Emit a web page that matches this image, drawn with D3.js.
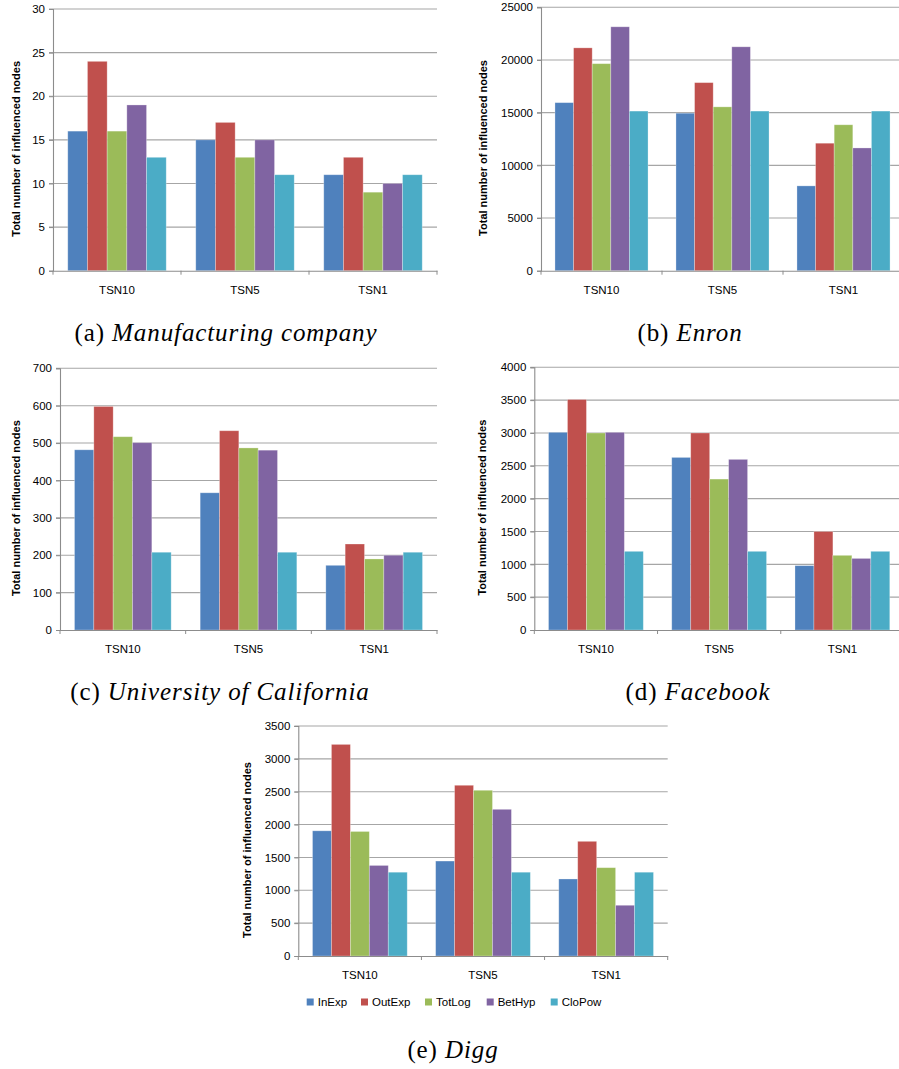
<!DOCTYPE html>
<html>
<head>
<meta charset="utf-8">
<script src="https://cdn.jsdelivr.net/npm/d3@7"></script>
<style>
  body { margin: 0; background: #fff; }
  svg { display: block; }
</style>
</head>
<body>
<svg id="chart" width="899" height="1069"></svg>
<script>
const categories = ["TSN10", "TSN5", "TSN1"];
const seriesNames = ["InExp", "OutExp", "TotLog", "BetHyp", "CloPow"];
const seriesColors = ["#4F81BD", "#C0504D", "#9BBB59", "#8064A2", "#4BACC6"];

// values per category, in series order
const manufacturing = [[16, 24, 16, 19, 13], [15, 17, 13, 15, 11], [11, 13, 9, 10, 11]];
const enron = [[15950, 21150, 19650, 23150, 15150], [14950, 17850, 15550, 21250, 15150], [8050, 12100, 13850, 11650, 15150]];
const california = [[482, 598, 517, 501, 208], [367, 533, 487, 481, 208], [173, 230, 190, 200, 208]];
const facebook = [[3010, 3510, 3000, 3010, 1198], [2628, 3000, 2298, 2598, 1198], [980, 1500, 1137, 1090, 1198]];
const digg = [[1905, 3220, 1895, 1378, 1275], [1445, 2598, 2522, 2232, 1275], [1172, 1745, 1344, 772, 1275]];

const yTitle = "Total number of influenced nodes";
const svg = d3.select("#chart");

// left/right = plot x range, top/bottom = y of max and zero
const panels = [
  {data: manufacturing, max: 30, step: 5, left: 53, right: 437, top: 9, bottom: 270.7, titleX: 16, label: "(a)", name: "Manufacturing company", capX: 226, capY: 341},
  {data: enron, max: 25000, step: 5000, left: 541, right: 904, top: 7.3, bottom: 270.7, titleX: 483, label: "(b)", name: "Enron", capX: 690, capY: 341},
  {data: california, max: 700, step: 100, left: 60, right: 437, top: 368.3, bottom: 630, titleX: 16, label: "(c)", name: "University of California", capX: 220, capY: 700},
  {data: facebook, max: 4000, step: 500, left: 534.3, right: 904, top: 367.3, bottom: 630, titleX: 482, label: "(d)", name: "Facebook", capX: 698, capY: 700},
  {data: digg, max: 3500, step: 500, left: 298.3, right: 667.7, top: 726, bottom: 956, titleX: 246.7, label: "(e)", name: "Digg", capX: 453, capY: 1058}
];

function drawPanel(p) {
  const g = svg.append("g");
  const x0 = d3.scaleBand().domain(categories).range([p.left, p.right]);
  // Excel gap width 150%: 5 bars + 1.5 bar of gap per category
  const bw = x0.bandwidth() / 6.5;
  const x1 = d3.scaleBand().domain(seriesNames)
    .range([bw * 0.75, bw * 0.75 + bw * 5]);
  const y = d3.scaleLinear().domain([0, p.max]).range([p.bottom, p.top]);
  const ticks = d3.range(0, p.max + p.step / 2, p.step);

  // gridlines
  g.append("g").selectAll("line")
    .data(ticks.slice(1))
    .enter().append("line")
    .attr("x1", p.left - 4).attr("x2", p.right)
    .attr("y1", d => y(d)).attr("y2", d => y(d))
    .attr("stroke", "#a6a6a6").attr("stroke-width", 1.1);

  // bars
  g.append("g").selectAll("g")
    .data(p.data)
    .enter().append("g")
    .attr("transform", (d, i) => `translate(${x0(categories[i])},0)`)
    .selectAll("rect")
    .data(d => d)
    .enter().append("rect")
    .attr("x", (d, j) => x1(seriesNames[j]))
    .attr("width", x1.bandwidth())
    .attr("y", d => y(d))
    .attr("height", d => y(0) - y(d))
    .attr("fill", (d, j) => seriesColors[j])
    .attr("stroke", "rgba(255,255,255,0.35)")
    .attr("stroke-width", 0.8);

  // y axis
  const yAxis = g.append("g")
    .attr("transform", `translate(${p.left},0)`)
    .call(d3.axisLeft(y).tickValues(ticks).tickSize(4).tickPadding(4).tickFormat(d3.format("d")));
  yAxis.select(".domain").attr("stroke", "#8c8c8c").attr("stroke-width", 1.1);
  yAxis.selectAll(".tick line").attr("stroke", "#8c8c8c");
  yAxis.selectAll("text")
    .attr("font-family", "Liberation Sans, Arial, sans-serif")
    .attr("font-size", 11.5).attr("fill", "#000");

  // x axis
  const xAxis = g.append("g")
    .attr("transform", `translate(0,${p.bottom})`)
    .call(d3.axisBottom(x0).tickSize(0).tickPadding(15));
  xAxis.select(".domain").attr("stroke", "#8c8c8c").attr("stroke-width", 1.1);
  xAxis.selectAll("text")
    .attr("font-family", "Liberation Sans, Arial, sans-serif")
    .attr("font-size", 11.5).attr("fill", "#000");
  // category separators
  g.append("g").selectAll("line")
    .data(d3.range(categories.length + 1))
    .enter().append("line")
    .attr("x1", i => p.left + i * x0.step()).attr("x2", i => p.left + i * x0.step())
    .attr("y1", p.bottom).attr("y2", p.bottom + 4)
    .attr("stroke", "#8c8c8c");

  // y title
  g.append("text")
    .attr("transform", `translate(${p.titleX + 4},${(p.top + p.bottom) / 2 + 9}) rotate(-90)`)
    .attr("text-anchor", "middle")
    .attr("font-family", "Liberation Sans, Arial, sans-serif")
    .attr("font-weight", "bold")
    .attr("font-size", 11)
    .text(yTitle);

  // caption
  const cap = g.append("text")
    .attr("x", p.capX).attr("y", p.capY)
    .attr("text-anchor", "middle")
    .attr("font-family", "Liberation Serif, Times New Roman, serif")
    .attr("font-size", 25)
    .attr("letter-spacing", 0.9);
  cap.append("tspan").text(p.label + " ");
  cap.append("tspan").attr("font-style", "italic").text(p.name);
}

panels.forEach(drawPanel);

// legend under the Digg chart
const legendX = [306.7, 361, 425, 486.7, 550.7];
const legend = svg.append("g").selectAll("g")
  .data(seriesNames)
  .enter().append("g")
  .attr("transform", (d, i) => `translate(${legendX[i]},1002)`);
legend.append("rect")
  .attr("x", 0).attr("y", -3.5).attr("width", 7).attr("height", 7)
  .attr("fill", (d, i) => seriesColors[i]);
legend.append("text")
  .attr("x", 11).attr("y", 4)
  .attr("font-family", "Liberation Sans, Arial, sans-serif")
  .attr("font-size", 11.5)
  .text(d => d);
</script>
</body>
</html>
